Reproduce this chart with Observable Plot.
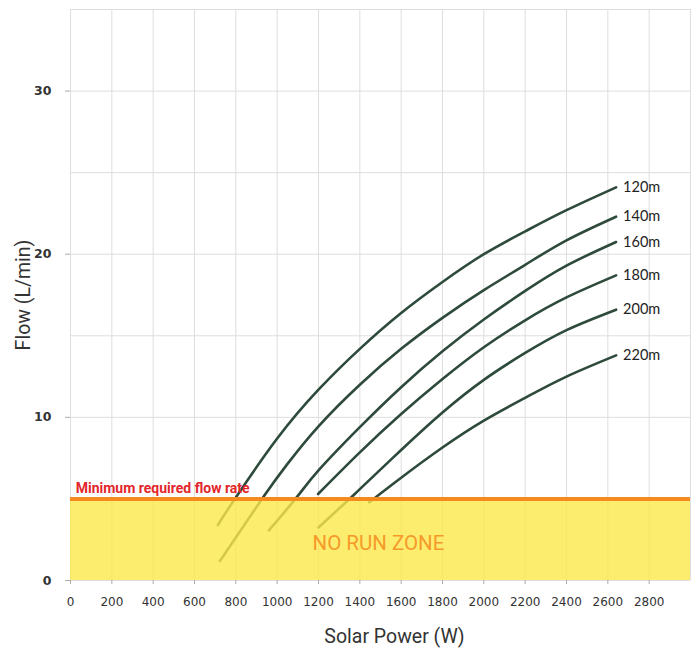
<!DOCTYPE html>
<html>
<head>
<meta charset="utf-8">
<script src="https://cdn.jsdelivr.net/npm/d3@7"></script>
<script src="https://cdn.jsdelivr.net/npm/@observablehq/plot@0.6"></script>
<style>
  html, body { margin: 0; padding: 0; background: #fff; }
  #chart svg { display: block; }
</style>
</head>
<body>
<div id="chart"></div>
<script>
// ---- data ----
const heads = ["120m", "140m", "160m", "180m", "200m", "220m"];

const power120 = [713, 795, 1000, 1200, 1400, 1600, 1800, 2000, 2200, 2400, 2640];
const flow120  = [3.4, 5.0, 8.7, 11.7, 14.2, 16.4, 18.3, 20.0, 21.4, 22.7, 24.1];

const power140 = [723, 932, 1050, 1200, 1400, 1600, 1800, 2000, 2200, 2400, 2640];
const flow140  = [1.2, 5.1, 7.15, 9.45, 12.0, 14.2, 16.1, 17.8, 19.35, 20.85, 22.3];

const power160 = [960, 1099, 1200, 1400, 1600, 1800, 2000, 2200, 2400, 2640];
const flow160  = [3.07, 5.17, 6.75, 9.4, 11.85, 14.05, 16.0, 17.75, 19.3, 20.75];

const power180 = [1198, 1400, 1600, 1800, 2000, 2200, 2400, 2640];
const flow180  = [5.3, 7.85, 10.2, 12.35, 14.3, 15.95, 17.35, 18.7];

const power200 = [1200, 1350, 1400, 1600, 1800, 2000, 2200, 2400, 2640];
const flow200  = [3.25, 5.0, 5.6, 8.0, 10.3, 12.3, 13.95, 15.35, 16.6];

const power220 = [1446, 1600, 1800, 2000, 2200, 2400, 2640];
const flow220  = [4.8, 6.3, 8.15, 9.8, 11.2, 12.5, 13.8];

const minFlow = 5;
const xTicks = [0, 200, 400, 600, 800, 1000, 1200, 1400, 1600, 1800, 2000, 2200, 2400, 2600, 2800];
const yTicks = [0, 10, 20, 30];
const xGrid = [0, 200, 400, 600, 800, 1000, 1200, 1400, 1600, 1800, 2000, 2200, 2400, 2600, 2800, 3000];
const yGrid = [0, 5, 10, 15, 20, 25, 30, 35];

// ---- build table ----
const seriesPower = [power120, power140, power160, power180, power200, power220];
const seriesFlow  = [flow120, flow140, flow160, flow180, flow200, flow220];
const rows = [];
heads.forEach((h, i) => {
  seriesPower[i].forEach((p, j) => rows.push({head: h, power: p, flow: seriesFlow[i][j]}));
});
const ends = heads.map((h, i) => ({
  head: h,
  power: seriesPower[i][seriesPower[i].length - 1],
  flow: seriesFlow[i][seriesFlow[i].length - 1]
}));

const narrow = "'Liberation Sans Narrow', 'Roboto', sans-serif";

const chart = Plot.plot({
  width: 694,
  height: 650,
  marginLeft: 70,
  marginRight: 4,
  marginTop: 9,
  marginBottom: 70,
  x: {domain: [0, 3000]},
  y: {domain: [0, 35]},
  marks: [
    Plot.ruleX(xGrid, {stroke: "#dedede", strokeWidth: 1}),
    Plot.ruleY(yGrid, {stroke: "#dedede", strokeWidth: 1}),
    Plot.line(rows, {x: "power", y: "flow", z: "head", stroke: "#2d4a3b", strokeWidth: 2.6, curve: "natural"}),
    Plot.rect([{x1: 0, x2: 3000, y1: 0, y2: minFlow}], {x1: "x1", x2: "x2", y1: "y1", y2: "y2", fill: "#fde84a", fillOpacity: 0.8}),
    Plot.ruleY([minFlow], {stroke: "#f58a1f", strokeWidth: 4}),
    Plot.text(["Minimum required flow rate"], {x: 25, y: minFlow, dy: -10, textAnchor: "start", fill: "#e3262b", fontSize: 14, fontWeight: "bold", fontFamily: narrow}),
    Plot.text(["NO RUN ZONE"], {x: 1490, y: 2.3, fill: "#f59a2a", fontSize: 20.5, fontFamily: narrow}),
    Plot.text(ends, {x: "power", y: "flow", text: "head", dx: 7, textAnchor: "start", fill: "#222", fontSize: 14.5, fontFamily: "Lato, sans-serif"}),
    Plot.axisX({ticks: xTicks, tickSize: 4, tickPadding: 13, label: null, stroke: "#aaa", fill: "#333", fontSize: 12, fontFamily: "DejaVu Sans, sans-serif", tickFormat: d => String(d)}),
    Plot.axisY({ticks: yTicks, tickSize: 5, tickPadding: 14, label: null, stroke: "#aaa", fill: "#333", fontSize: 12.5, fontWeight: "bold", fontFamily: "DejaVu Sans, sans-serif", tickFormat: d => String(d)}),
    Plot.text(["Solar Power (W)"], {frameAnchor: "bottom", dx: 14, dy: 56, textAnchor: "middle", lineAnchor: "middle", fill: "#333", fontSize: 19.5, fontFamily: narrow}),
    Plot.text(["Flow (L/min)"], {frameAnchor: "left", dx: -47, rotate: -90, textAnchor: "middle", lineAnchor: "middle", fill: "#333", fontSize: 19.5, fontFamily: narrow})
  ]
});
document.getElementById("chart").appendChild(chart);
</script>
</body>
</html>
